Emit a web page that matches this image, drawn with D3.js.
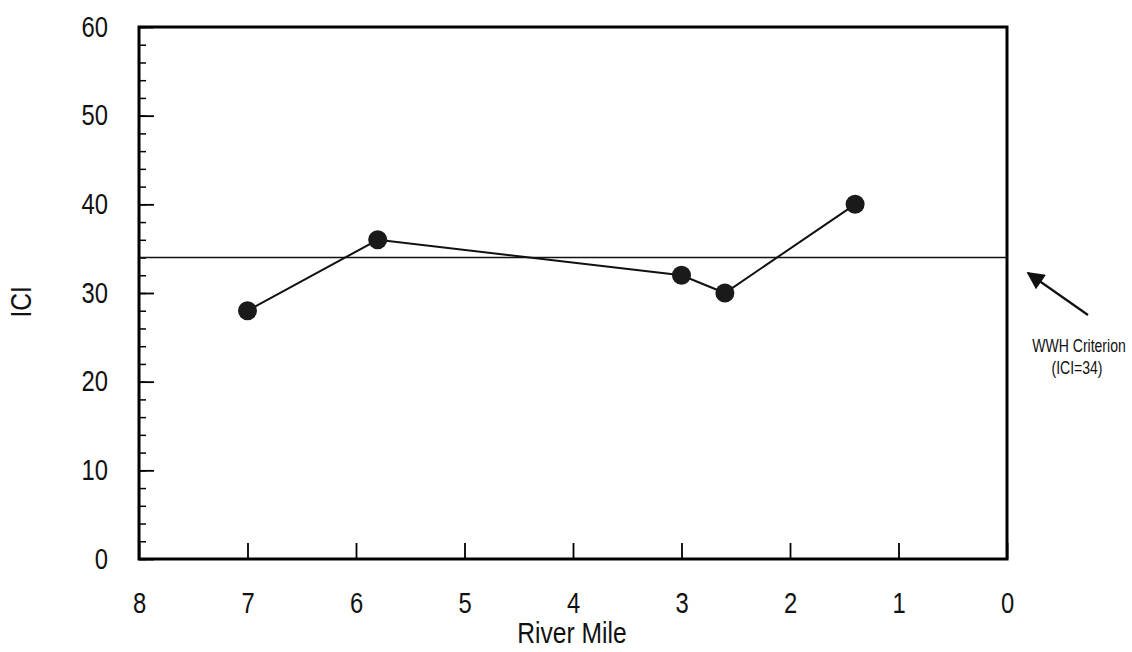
<!DOCTYPE html>
<html lang="en">
<head>
<meta charset="UTF-8">
<title>ICI vs River Mile</title>
<style>
  body { margin: 0; background: #fff; }
  text { font-family: "Liberation Sans", Arial, sans-serif; fill: #111; }
</style>
</head>
<body>
<div id="graph"></div>
<script src="https://cdn.jsdelivr.net/npm/d3@7"></script>
<script>
// data
var riverMile = [7.0, 5.8, 3.0, 2.6, 1.4];
var iciValue = [28, 36, 32, 30, 40];
var xTicks = [8, 7, 6, 5, 4, 3, 2, 1, 0];
var yTicks = [0, 10, 20, 30, 40, 50, 60];
var criterion = 34;
var criterionLabel = ["WWH Criterion", "(ICI=34)"];

var width = 1132, height = 652;
var plotL = 139, plotR = 1007, plotT = 27, plotB = 559;

var svg = d3.select("#graph").append("svg")
    .attr("width", width).attr("height", height);

var x = d3.scaleLinear().domain([8, 0]).range([plotL, plotR]);
var y = d3.scaleLinear().domain([0, 60]).range([plotB, plotT]);

// minor y ticks (every 2)
svg.append("g")
    .attr("transform", "translate(" + plotL + ",0)")
    .call(d3.axisLeft(y).tickValues(d3.range(0, 61, 2)).tickSize(-7).tickFormat(""))
    .call(function (g) { g.select(".domain").remove(); })
    .selectAll("line").attr("stroke-width", 1.5);

// major y ticks + labels
svg.append("g")
    .attr("transform", "translate(" + plotL + ",0)")
    .call(d3.axisLeft(y).tickValues(yTicks).tickSize(-15).tickPadding(31))
    .call(function (g) { g.select(".domain").remove(); })
    .call(function (g) {
        g.selectAll("line").attr("stroke-width", 1.8);
        g.selectAll("text").attr("font-size", 29).attr("font-family", null);
    });

// x ticks + labels
svg.append("g")
    .attr("transform", "translate(0," + plotB + ")")
    .call(d3.axisBottom(x).tickValues(xTicks).tickSize(-16).tickPadding(33))
    .call(function (g) { g.select(".domain").remove(); })
    .call(function (g) {
        g.selectAll("line").attr("stroke-width", 1.8);
        g.selectAll("text").attr("font-size", 29).attr("font-family", null);
    });

// frame
svg.append("rect")
    .attr("x", plotL).attr("y", plotT)
    .attr("width", plotR - plotL).attr("height", plotB - plotT)
    .attr("fill", "none").attr("stroke", "#000").attr("stroke-width", 3);

// criterion line
svg.append("line")
    .attr("x1", plotL).attr("x2", plotR)
    .attr("y1", y(criterion)).attr("y2", y(criterion))
    .attr("stroke", "#111").attr("stroke-width", 1.6);

// series
var pts = riverMile.map(function (d, i) { return [d, iciValue[i]]; });
svg.append("path")
    .datum(pts)
    .attr("fill", "none").attr("stroke", "#111").attr("stroke-width", 2)
    .attr("d", d3.line().x(function (d) { return x(d[0]); }).y(function (d) { return y(d[1]); }));

svg.selectAll("circle.pt").data(pts).enter().append("circle")
    .attr("class", "pt")
    .attr("cx", function (d) { return x(d[0]); })
    .attr("cy", function (d) { return y(d[1]); })
    .attr("r", 9.5)
    .attr("fill", "#1a1a1a");

// axis titles
svg.append("text")
    .attr("x", 572).attr("y", 643)
    .attr("text-anchor", "middle")
    .attr("font-size", 30)
    .text("River Mile");

svg.append("text")
    .attr("transform", "translate(31," + y(29) + ") rotate(-90)")
    .attr("text-anchor", "middle")
    .attr("font-size", 30)
    .text("ICI");

// the original lettering is a condensed face: squeeze the labels horizontally
svg.selectAll("text").each(function () {
    var w = this.getComputedTextLength();
    d3.select(this).attr("textLength", w * 0.82).attr("lengthAdjust", "spacingAndGlyphs");
});

// annotation arrow
svg.append("defs").append("marker")
    .attr("id", "head")
    .attr("viewBox", "0 0 10 10")
    .attr("refX", 9).attr("refY", 5)
    .attr("markerWidth", 10).attr("markerHeight", 8)
    .attr("markerUnits", "strokeWidth")
    .attr("orient", "auto")
    .append("path").attr("d", "M0,0L10,5L0,10z").attr("fill", "#111");

svg.append("line")
    .attr("x1", 1088).attr("y1", 315)
    .attr("x2", 1028).attr("y2", 273)
    .attr("stroke", "#111").attr("stroke-width", 2.2)
    .attr("marker-end", "url(#head)");

svg.append("g").selectAll("text").data(criterionLabel).enter().append("text")
    .attr("transform", function (d, i) {
        return "translate(" + (i === 0 ? 1079 : 1077) + "," + (352 + i * 22) + ") scale(0.78,1)";
    })
    .attr("text-anchor", "middle")
    .attr("font-size", 18)
    .text(function (d) { return d; });
</script>
</body>
</html>
